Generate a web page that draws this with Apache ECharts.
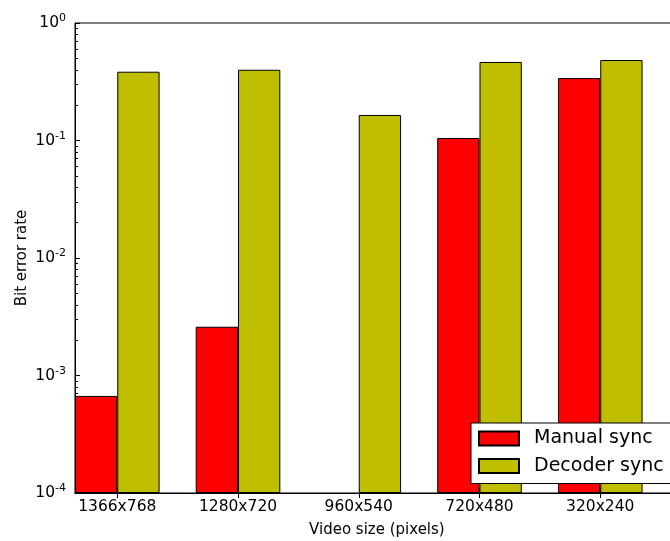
<!DOCTYPE html>
<html>
<head>
<meta charset="utf-8">
<script src="https://cdn.jsdelivr.net/npm/echarts@6/dist/echarts.min.js"></script>
<style>html,body{margin:0;padding:0;background:#fff;}#chart{width:670px;height:541px;}</style>
</head>
<body>
<div id="chart"></div>
<script>
var categories = ['1366x768', '1280x720', '960x540', '720x480', '320x240'];
var manualSync = [0.00067, 0.0026, null, 0.105, 0.34];
var decoderSync = [0.385, 0.40, 0.165, 0.466, 0.484];
var seriesNames = ['Manual sync', 'Decoder sync'];
var yTickExponents = [-4, -3, -2, -1, 0];

var FONT = 'DejaVu Sans';
var LOG_MIN = yTickExponents[0];
// log-scale mapping: plotted value = log10(v) - log10(axis min)
function logPos(v) { return Math.log10(v) - LOG_MIN; }
var groupPos = categories.map(function (c, i) { return i + 0.35; });
var majorTicks = yTickExponents.map(function (e) { return e - LOG_MIN; });
var minorTicks = [];
for (var d = LOG_MIN; d < 0; d++) { for (var k = 2; k <= 9; k++) { minorTicks.push(logPos(k * Math.pow(10, d))); } }

function toPairs(arr) {
  return arr.map(function (v, i) { return [groupPos[i], v == null ? '-' : logPos(v)]; });
}

var chart = echarts.init(document.getElementById('chart'), null, { renderer: 'canvas' });
var option = {
  animation: false,
  backgroundColor: '#fff',
  grid: { left: 75, top: 23, width: 603.75, height: 470, show: true, borderColor: '#000', borderWidth: 1, backgroundColor: 'transparent', containLabel: false, outerBoundsMode: 'none' },
  legend: {
    orient: 'vertical', left: 471, top: 423,
    padding: [6, 7, 8, 7], itemWidth: 40, itemHeight: 14, itemGap: 8.5,
    backgroundColor: '#fff', borderColor: '#000', borderWidth: 1, borderRadius: 0,
    icon: 'rect',
    textStyle: { fontFamily: FONT, fontSize: 19, color: '#000', padding: [0, 0, 0, 10] },
    data: seriesNames
  },
  xAxis: [{
    type: 'value', min: 0, max: 5, position: 'bottom',
    name: 'Video size (pixels)', nameLocation: 'middle', nameGap: 30, nameMoveOverlap: false,
    nameTextStyle: { fontFamily: FONT, fontSize: 15, color: '#000' },
    axisLine: { show: true, lineStyle: { color: '#000', width: 1 } },
    axisTick: { show: true, inside: true, length: 5, customValues: groupPos, lineStyle: { color: '#000' } },
    axisLabel: { show: true, customValues: groupPos, margin: 6, fontFamily: FONT, fontSize: 15.5, color: '#000',
      formatter: function (v) { return categories[Math.round(v - 0.35)]; } },
    splitLine: { show: false }
  }, {
    type: 'value', min: 0, max: 5, position: 'top',
    axisLine: { show: true, lineStyle: { color: '#000', width: 1 } },
    axisTick: { show: true, inside: true, length: 5, customValues: groupPos, lineStyle: { color: '#000' } },
    axisLabel: { show: false },
    splitLine: { show: false }
  }],
  yAxis: [{
    type: 'value', min: 0, max: 4, interval: 1,
    name: 'Bit error rate', nameLocation: 'middle', nameGap: 45, nameRotate: 90, nameMoveOverlap: false,
    nameTextStyle: { fontFamily: FONT, fontSize: 15, color: '#000' },
    axisLine: { show: true, lineStyle: { color: '#000', width: 1 } },
    axisTick: { show: true, inside: true, length: 5, customValues: majorTicks, lineStyle: { color: '#000' } },
    axisLabel: { show: true, customValues: majorTicks, margin: 9, color: '#000',
      formatter: function (v) { var e = Math.round(v + LOG_MIN); return '{b|10}{s|' + e + '}'; },
      rich: { b: { fontFamily: FONT, fontSize: 15.5, color: '#000' }, s: { fontFamily: FONT, fontSize: 11, color: '#000', padding: [0, 0, 9, 0] } } },
    splitLine: { show: false }
  }, {
    type: 'value', min: 0, max: 4, interval: 1, position: 'left',
    axisLine: { show: false },
    axisTick: { show: true, inside: true, length: 3, customValues: minorTicks, lineStyle: { color: '#000' } },
    axisLabel: { show: false },
    splitLine: { show: false }
  }],
  series: [{
    name: seriesNames[0], type: 'bar', xAxisIndex: 0, yAxisIndex: 0,
    barWidth: 42.3, barGap: '0%',
    itemStyle: { color: '#ff0000', borderColor: '#000', borderWidth: 1 },
    data: toPairs(manualSync)
  }, {
    name: seriesNames[1], type: 'bar', xAxisIndex: 0, yAxisIndex: 0,
    barWidth: 42.3, barGap: '0%',
    itemStyle: { color: '#bfbf00', borderColor: '#000', borderWidth: 1 },
    data: toPairs(decoderSync)
  }]
};
chart.setOption(option);
</script>
</body>
</html>
